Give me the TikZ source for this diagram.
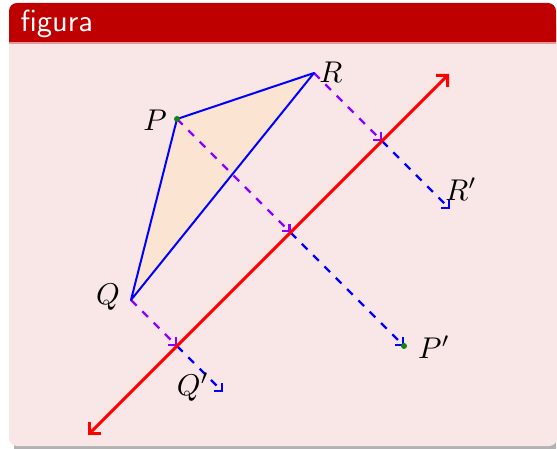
\documentclass[tikz,border=0pt]{standalone}
\usepackage{amsmath}
\usepackage{tikz}
\usetikzlibrary{arrows.meta}
\definecolor{blockred}{RGB}{191,0,0}
\definecolor{blockbody}{RGB}{249,230,231}
\definecolor{trifill}{RGB}{252,228,210}
\definecolor{dashviolet}{RGB}{140,0,255}
\definecolor{dotgreen}{RGB}{20,130,20}

\begin{document}
\begin{tikzpicture}[x=1pt,y=-1pt,
    toline/.style={dashed,line width=2.3pt,dash pattern=on 8pt off 8pt,
      -{Straight Barb[length=5.5pt,width=11pt]}},
    axisline/.style={line width=3pt,red,
      {Straight Barb[length=8pt,width=16pt]}-{Straight Barb[length=8pt,width=16pt]}},
    side/.style={line width=2pt,blue,line join=round},
    lbl/.style={scale=3,inner sep=0pt}]
    \useasboundingbox (0,0) rectangle (557,449);

    % the block
    \fill[gray!60] (14,46) rectangle (556,449);
    \fill[blockbody,rounded corners=8pt] (9,20) rectangle (557,446);
    \fill[blockred,rounded corners=8pt] (9,3) rectangle (556,60);
    \fill[blockbody] (9,42) rectangle (557,60);
    \fill[blockred!40] (9,42) rectangle (556,44);
    \node[anchor=base west,inner sep=0pt,text=white,scale=3.05,
      font=\sffamily] (title) at (20,32) {figura};

    \coordinate (P) at (177,119);
    \coordinate (Q) at (131,300);
    \coordinate (R) at (314,73);

    \coordinate (P') at (404,346);
    \coordinate (Q') at (223,392);
    \coordinate (R') at (450,209);

    \coordinate (fP) at (290.5,232.5);
    \coordinate (fQ) at (177,346);
    \coordinate (fR) at (382,141);

    \coordinate (m1) at (88,435);
    \coordinate (m2) at (449,74);

    \fill[trifill] (P) -- (Q) -- (R) -- cycle;

    \draw[toline,dashviolet] (P) -- (fP);
    \draw[toline,dashviolet] (Q) -- (fQ);
    \draw[toline,dashviolet] (R) -- (fR);
    \draw[toline,blue] (fP) -- (P');
    \draw[toline,blue] (fQ) -- (Q');
    \draw[toline,blue] (fR) -- (R');

    \draw[side] (P) -- (Q) -- (R) -- cycle;
    \draw[axisline] (m1) -- (m2);

    \fill[dotgreen] (P) circle (3pt);
    \fill[dotgreen] (P') circle (3pt);

    \node[lbl] (lP) at (155,120) {$P$};
    \node[lbl] (lQ) at (108,297) {$Q$};
    \node[lbl] (lR) at (331,72) {$R$};
    \node[lbl] (lP') at (434,347) {$P'$};
    \node[lbl] (lQ') at (193,387) {$Q'$};
    \node[lbl] (lR') at (461,189) {$R'$};
\end{tikzpicture}
\end{document}
